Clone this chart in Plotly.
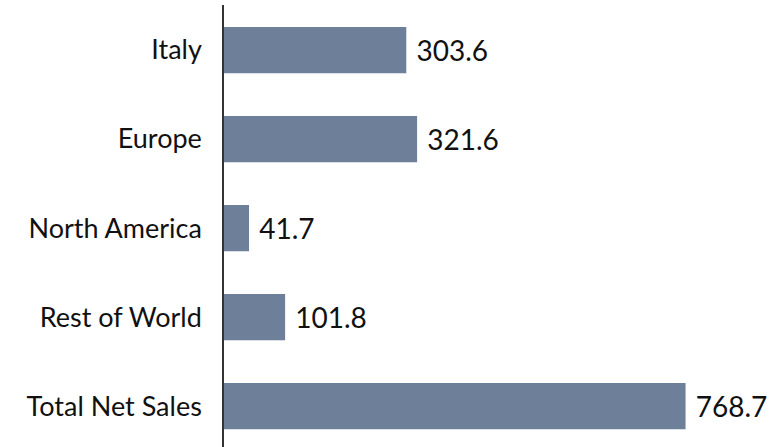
import plotly.graph_objects as go

categories = ["Italy", "Europe", "North America", "Rest of World", "Total Net Sales"]
values = [303.6, 321.6, 41.7, 101.8, 768.7]
value_labels = ["303.6", "321.6", "41.7", "101.8", "768.7"]

FONT = "Lato, sans-serif"

fig = go.Figure(go.Bar(
    y=categories, x=values, orientation="h",
    marker=dict(color="#6e7f99", line=dict(width=0)),
    width=0.52,
    text=value_labels, texttemplate=" %{text}", textposition="outside",
    textfont=dict(size=28, color="#111111", family=FONT),
    cliponaxis=False,
))

fig.update_layout(
    width=777, height=447,
    margin=dict(l=224, r=0, t=5, b=0, autoexpand=False),
    paper_bgcolor="white", plot_bgcolor="white",
    showlegend=False,
    font=dict(family=FONT, size=27, color="#111111"),
    xaxis=dict(range=[0, 921], visible=False, showgrid=False, zeroline=False,
               automargin=False),
    yaxis=dict(range=[4.46, -0.506], showgrid=False, zeroline=False,
               showline=True, linecolor="#333333", linewidth=1.5,
               ticks="", ticklabelstandoff=15, automargin=False,
               tickfont=dict(size=27, family=FONT, color="#111111")),
)

fig.write_html(
    "out.html",
    config={"displayModeBar": False},
    post_script="document.body.style.margin='0';document.body.style.padding='0';",
)
